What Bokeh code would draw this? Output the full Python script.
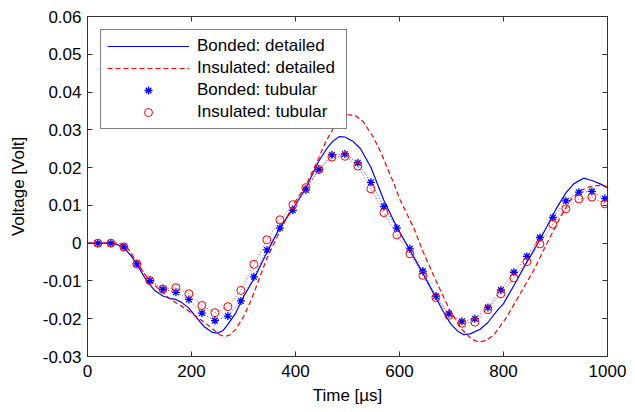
from bokeh.plotting import figure
from bokeh.models import (Range1d, LinearAxis, FixedTicker, CustomJSTickFormatter,
                          Legend, LegendItem, ColumnDataSource)
from bokeh.embed import file_html
from bokeh.resources import INLINE

# ---------------- data ----------------
t_bonded_detailed = [0, 20, 40, 55, 70, 85, 100, 115, 130, 145, 160, 170, 180, 195, 210, 225,
                     240, 250, 260, 270, 285, 300, 320, 345, 370, 395, 420, 445, 460, 472, 484,
                     495, 510, 525, 545, 570, 595, 620, 645, 672, 685, 698, 712, 723, 736, 755,
                     770, 787, 800, 820, 840, 860, 880, 900, 920, 935, 954, 970, 986, 1000]
v_bonded_detailed = [0, 0, 0, -0.0002, -0.0012, -0.0035, -0.0068, -0.0102, -0.0126, -0.0140,
                     -0.0147, -0.0149, -0.0156, -0.0172, -0.0198, -0.0222, -0.0236, -0.0238,
                     -0.0232, -0.0215, -0.0185, -0.0142, -0.0095, -0.0025, 0.0042, 0.0091,
                     0.0146, 0.0218, 0.0250, 0.0270, 0.0282, 0.0281, 0.0270, 0.0250, 0.0201,
                     0.0113, 0.0042, -0.0019, -0.0080, -0.0150, -0.0183, -0.0213, -0.0233,
                     -0.0242, -0.0240, -0.0228, -0.0210, -0.0180, -0.0160, -0.0112, -0.0062,
                     -0.0015, 0.0035, 0.0088, 0.0133, 0.0157, 0.0172, 0.0166, 0.0157, 0.0147]

t_insulated_detailed = [0, 20, 40, 60, 70, 80, 95, 110, 125, 140, 155, 170, 185, 200, 215, 230,
                        245, 255, 265, 275, 285, 300, 315, 330, 345, 370, 395, 420, 441, 457,
                        473, 486, 499, 515, 530, 550, 565, 576, 590, 601, 615, 627, 646, 672,
                        697, 720, 738, 752, 765, 781, 806, 832, 858, 883, 906, 928, 947, 967,
                        986, 1000]
v_insulated_detailed = [0, 0, 0, 0, -0.0005, -0.0018, -0.0050, -0.0082, -0.0107, -0.0125,
                        -0.0143, -0.0158, -0.0170, -0.0185, -0.0200, -0.0215, -0.0232, -0.0243,
                        -0.0247, -0.0242, -0.0228, -0.0195, -0.0150, -0.0095, -0.0040, 0.0032,
                        0.0100, 0.0153, 0.0214, 0.0265, 0.0305, 0.0327, 0.0340, 0.0338, 0.0322,
                        0.0280, 0.0238, 0.0201, 0.0155, 0.0115, 0.0075, 0.0042, -0.0025,
                        -0.0105, -0.0178, -0.0228, -0.0253, -0.0262, -0.0258, -0.0244, -0.0196,
                        -0.0134, -0.0072, -0.0002, 0.0060, 0.0113, 0.0139, 0.0150, 0.0153,
                        0.0150]

t_tubular = [20, 45, 70, 95, 120, 145, 170, 195, 220, 245, 270, 295, 320, 345, 370, 395, 420,
             445, 470, 495, 520, 545, 570, 595, 620, 645, 670, 695, 720, 745, 770, 795, 820,
             845, 870, 895, 920, 945, 970, 995]
v_bonded_tubular = [0, 0, -0.0010, -0.0055, -0.0099, -0.0122, -0.0130, -0.0149, -0.0185,
                    -0.0205, -0.0193, -0.0153, -0.0089, -0.0018, 0.0040, 0.0087, 0.0141, 0.0195,
                    0.0234, 0.0236, 0.0213, 0.0161, 0.0097, 0.0040, -0.0015, -0.0074, -0.0140,
                    -0.0187, -0.0207, -0.0200, -0.0170, -0.0124, -0.0077, -0.0035, 0.0015,
                    0.0068, 0.0112, 0.0135, 0.0137, 0.0118]
v_insulated_tubular = [0, 0, -0.0010, -0.0055, -0.0099, -0.0121, -0.0118, -0.0134, -0.0165,
                       -0.0184, -0.0168, -0.0125, -0.0056, 0.0009, 0.0062, 0.0102, 0.0147,
                       0.0195, 0.0228, 0.0230, 0.0204, 0.0144, 0.0081, 0.0022, -0.0028,
                       -0.0085, -0.0144, -0.0191, -0.0212, -0.0209, -0.0176, -0.0134, -0.0092,
                       -0.0049, -0.0002, 0.0050, 0.0091, 0.0117, 0.0122, 0.0104]

x_ticks = [0, 200, 400, 600, 800, 1000]
y_ticks = [-0.03, -0.02, -0.01, 0, 0.01, 0.02, 0.03, 0.04, 0.05, 0.06]

labels = ["Bonded: detailed", "Insulated: detailed", "Bonded: tubular", "Insulated: tubular"]
x_label = "Time [µs]"
y_label = "Voltage [Volt]"

# ---------------- figure ----------------
FONT = "Liberation Sans"
AX = "#333333"

p = figure(width=635, height=412, x_range=Range1d(0, 1000), y_range=Range1d(-0.03, 0.06),
           output_backend="svg", toolbar_location=None,
           min_border_left=87, min_border_right=28, min_border_top=16, min_border_bottom=56)
p.xgrid.visible = False
p.ygrid.visible = False
p.outline_line_color = AX
p.outline_line_width = 1
p.background_fill_color = "white"
p.border_fill_color = "white"

src_bd = ColumnDataSource(dict(t=t_bonded_detailed, v=v_bonded_detailed))
src_id = ColumnDataSource(dict(t=t_insulated_detailed, v=v_insulated_detailed))
src_bt = ColumnDataSource(dict(t=t_tubular, v=v_bonded_tubular))
src_it = ColumnDataSource(dict(t=t_tubular, v=v_insulated_tubular))

r_bt_line = p.line("t", "v", source=src_bt, line_color="#0000ff", line_dash="1 2",
                   line_width=1, line_alpha=0.8)
r_it_line = p.line("t", "v", source=src_it, line_color="#ff0000", line_dash="1 2",
                   line_width=1, line_alpha=0.8)
r_bd = p.line("t", "v", source=src_bd, line_color="#0000ff", line_width=1.2)
r_id = p.line("t", "v", source=src_id, line_color="#ff0000", line_width=1.2, line_dash="5 3")
r_bt = p.scatter("t", "v", source=src_bt, marker="asterisk", size=8, line_color="#0000ff",
                 line_width=1.3)
r_it = p.scatter("t", "v", source=src_it, marker="circle", size=8, line_color="#ff0000",
                 fill_color=None, line_width=1)

# ---------------- axes ----------------
fmt_y = CustomJSTickFormatter(code="""
const v = Math.round(tick * 100) / 100;
return v === 0 ? "0" : v.toFixed(2);
""")

def style_axis(ax, labels_on=True):
    ax.axis_line_color = AX
    ax.major_tick_line_color = AX
    ax.major_tick_in = 5
    ax.major_tick_out = 0
    ax.minor_tick_line_color = None
    ax.major_label_text_font = FONT
    if labels_on:
        ax.major_label_text_font_size = "17px"
        ax.major_label_text_color = "#000000"
    else:
        ax.major_label_text_font_size = "1px"
        ax.major_label_text_color = None
    ax.axis_label_text_font = FONT
    ax.axis_label_text_font_size = "17px"
    ax.axis_label_text_font_style = "normal"
    ax.axis_label_text_color = "#000000"

xa = p.xaxis[0]
xa.ticker = FixedTicker(ticks=x_ticks)
xa.axis_label = x_label
xa.major_label_standoff = 8
xa.axis_label_standoff = 6
style_axis(xa)

ya = p.yaxis[0]
ya.ticker = FixedTicker(ticks=y_ticks)
ya.formatter = fmt_y
ya.axis_label = y_label
ya.major_label_standoff = 6
ya.axis_label_standoff = 12
style_axis(ya)

top_ax = LinearAxis(ticker=FixedTicker(ticks=x_ticks))
style_axis(top_ax, labels_on=False)
p.add_layout(top_ax, "above")
right_ax = LinearAxis(ticker=FixedTicker(ticks=y_ticks))
style_axis(right_ax, labels_on=False)
p.add_layout(right_ax, "right")

# ---------------- legend ----------------
legend = Legend(items=[LegendItem(label=labels[0], renderers=[r_bd]),
                       LegendItem(label=labels[1], renderers=[r_id]),
                       LegendItem(label=labels[2], renderers=[r_bt]),
                       LegendItem(label=labels[3], renderers=[r_it])],
                location="top_left", margin=13, padding=6, spacing=2,
                label_height=20, glyph_height=20, glyph_width=82, label_standoff=8,
                label_width=143,
                label_text_font=FONT, label_text_font_size="17px", label_text_color="#000000",
                border_line_color="#000000", border_line_width=1,
                background_fill_color="white", background_fill_alpha=1)
p.add_layout(legend)

open("out.html", "w").write(file_html(p, INLINE))
